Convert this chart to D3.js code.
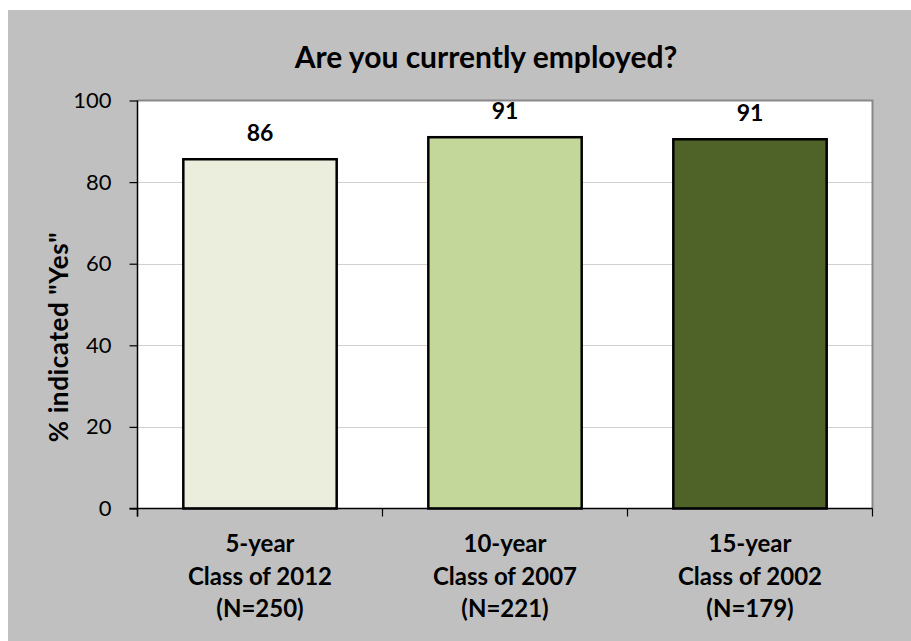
<!DOCTYPE html>
<html>
<head>
<meta charset="utf-8">
<script src="https://cdn.jsdelivr.net/npm/d3@7"></script>
<style>
  html, body { margin: 0; padding: 0; background: #ffffff; }
  svg { display: block; }
  text { font-family: Lato, "Open Sans", "Liberation Sans", sans-serif; fill: #000; }
</style>
</head>
<body>
<svg id="chart" width="911" height="641"></svg>
<script>
// Survey results: share answering "Yes" per graduating cohort
const cohorts = ["5-year", "10-year", "15-year"];
const classYears = ["Class of 2012", "Class of 2007", "Class of 2002"];
const sampleSizes = ["(N=250)", "(N=221)", "(N=179)"];
const yesPercent = [85.6, 91.0, 90.5];
const barColors = ["#ebeedd", "#c4d79b", "#4f6228"];
const yTicks = [0, 20, 40, 60, 80, 100];

const svg = d3.select("#chart");

// chart area background
svg.append("rect")
  .attr("x", 8).attr("y", 10)
  .attr("width", 903).attr("height", 631)
  .attr("fill", "#c0c0c0");

const plot = { left: 137.5, right: 872.5, top: 100.5, bottom: 508.5 };

const x = d3.scaleBand()
  .domain(cohorts)
  .range([plot.left, plot.right])
  .paddingInner(0.374)
  .paddingOuter(0.187);

const y = d3.scaleLinear()
  .domain([0, 100])
  .range([plot.bottom, plot.top]);

// plot area
svg.append("rect")
  .attr("x", plot.left).attr("y", plot.top)
  .attr("width", plot.right - plot.left).attr("height", plot.bottom - plot.top)
  .attr("fill", "#ffffff");

// horizontal gridlines
svg.append("g")
  .selectAll("line")
  .data(yTicks.filter(t => t > 0 && t < 100))
  .join("line")
  .attr("x1", plot.left).attr("x2", plot.right)
  .attr("y1", d => Math.round(y(d)) + 0.5).attr("y2", d => Math.round(y(d)) + 0.5)
  .attr("stroke", "#d0d0d0").attr("stroke-width", 1);

// top and right frame of the plot area
svg.append("path")
  .attr("d", `M${plot.left},${plot.top}H${plot.right}V${plot.bottom}`)
  .attr("fill", "none")
  .attr("stroke", "#888888").attr("stroke-width", 2);

// bars
svg.append("g")
  .selectAll("rect")
  .data(yesPercent)
  .join("rect")
  .attr("x", (d, i) => x(cohorts[i]))
  .attr("y", d => y(d))
  .attr("width", x.bandwidth())
  .attr("height", d => y(0) - y(d))
  .attr("fill", (d, i) => barColors[i])
  .attr("stroke", "#000").attr("stroke-width", 2.5);

// value labels
svg.append("g")
  .selectAll("text")
  .data(yesPercent)
  .join("text")
  .attr("x", (d, i) => x(cohorts[i]) + x.bandwidth() / 2)
  .attr("y", d => y(d) - 18)
  .attr("text-anchor", "middle")
  .attr("font-size", 23).attr("font-weight", "bold")
  .text(d => Math.round(d));

// y axis
const yAxis = d3.axisLeft(y).tickValues(yTicks).tickSize(8).tickPadding(18);
const gy = svg.append("g")
  .attr("transform", `translate(${plot.left},0)`)
  .call(yAxis);
gy.select(".domain").attr("stroke", "#000").attr("stroke-width", 1.5)
  .attr("d", `M0,${plot.top}V${plot.bottom + 8}`);
gy.selectAll(".tick line").attr("stroke", "#000").attr("stroke-width", 1.2);
gy.selectAll(".tick text")
  .attr("font-size", 22)
  .attr("font-family", "Lato, 'Open Sans', sans-serif")
  .attr("fill", "#000");

// x axis baseline and category separators
const gx = svg.append("g");
gx.append("line")
  .attr("x1", plot.left - 8).attr("x2", plot.right)
  .attr("y1", plot.bottom).attr("y2", plot.bottom)
  .attr("stroke", "#000").attr("stroke-width", 1.5);
const step = x.step();
const boundaries = d3.range(cohorts.length + 1).map(i => plot.left + i * step);
gx.selectAll("line.sep")
  .data(boundaries)
  .join("line")
  .attr("class", "sep")
  .attr("x1", d => d).attr("x2", d => d)
  .attr("y1", plot.bottom).attr("y2", plot.bottom + 8)
  .attr("stroke", "#000").attr("stroke-width", 1.2);

// category labels (three lines each)
const catLines = cohorts.map((c, i) => [c, classYears[i], sampleSizes[i]]);
const catGroups = svg.append("g")
  .selectAll("text")
  .data(catLines)
  .join("text")
  .attr("text-anchor", "middle")
  .attr("font-size", 24).attr("font-weight", "bold");
catGroups.each(function(lines, i) {
  const cx = x(cohorts[i]) + x.bandwidth() / 2;
  d3.select(this).selectAll("tspan")
    .data(lines)
    .join("tspan")
    .attr("x", cx)
    .attr("y", (d, j) => 552 + j * 32.5)
    .text(d => d);
});

// y axis title
svg.append("text")
  .attr("transform", "translate(68,337) rotate(-90)")
  .attr("text-anchor", "middle")
  .attr("font-size", 26).attr("font-weight", "bold")
  .attr("letter-spacing", 0.6)
  .text('% indicated "Yes"');

// chart title
svg.append("text")
  .attr("x", 486).attr("y", 68)
  .attr("text-anchor", "middle")
  .attr("font-size", 30).attr("font-weight", "bold")
  .text("Are you currently employed?");
</script>
</body>
</html>
